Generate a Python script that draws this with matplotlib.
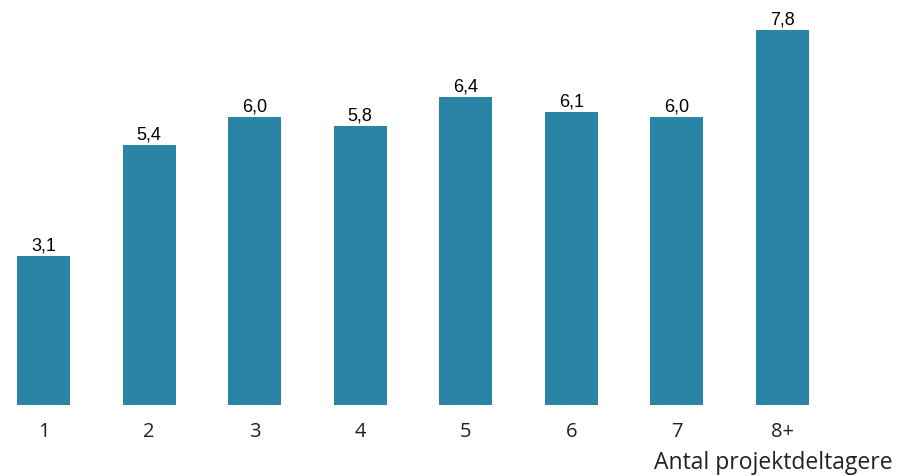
import matplotlib
matplotlib.use("Agg")
import matplotlib.pyplot as plt

groups = ["1", "2", "3", "4", "5", "6", "7", "8+"]
values = [3.1, 5.4, 6.0, 5.8, 6.4, 6.1, 6.0, 7.8]

bar_color = "#2a84a5"

fig = plt.figure(figsize=(8.99, 4.76), dpi=100)
ax = fig.add_axes([0, 71 / 476, 1, 405 / 476])

x = list(range(len(groups)))
bars = ax.bar(x, values, width=0.502, color=bar_color)

for xi, v in zip(x, values):
    ax.text(xi, v + 0.03, f"{v:.1f}".replace(".", ","), ha="center", va="bottom",
            fontsize=13, family="Liberation Sans", color="#000000")

ax.set_xlim(-0.412, 8.1035)
ax.set_ylim(0, 8.424)
ax.set_xticks(x)
ax.set_xticklabels(groups, family="Open Sans", fontsize=14.5, color="#222222")
ax.tick_params(axis="x", length=0, pad=12)
ax.set_yticks([])
for s in ax.spines.values():
    s.set_visible(False)

fig.text(893 / 899, 1 - 463 / 476, "Antal projektdeltagere", ha="right", va="center",
         family="Open Sans", fontsize=16.5, color="#222222")

fig.savefig("out.png", dpi=100)
